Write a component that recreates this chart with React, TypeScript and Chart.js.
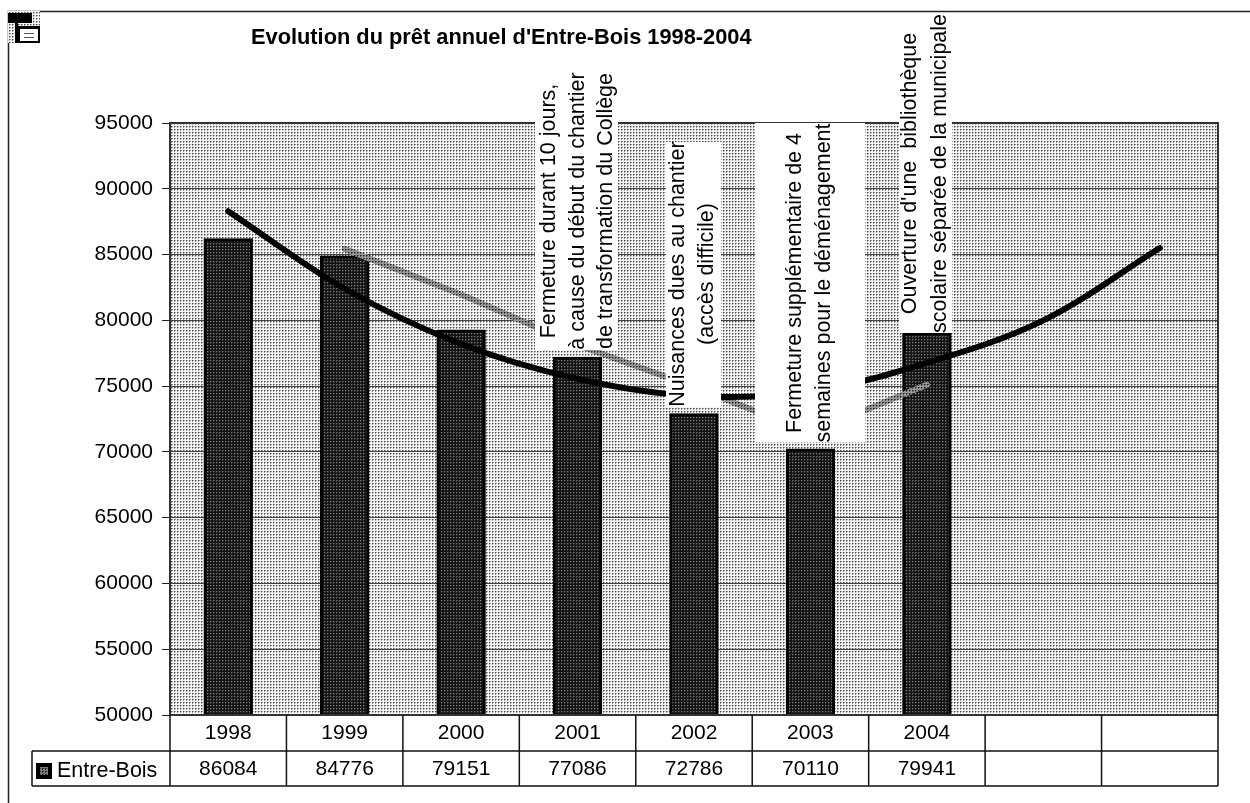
import React, { useEffect, useRef } from "react";
import { Chart, registerables } from "chart.js";

Chart.register(...registerables);

const categories = ["1998", "1999", "2000", "2001", "2002", "2003", "2004", "", ""];
const barValues = [86084, 84776, 79151, 77086, 72786, 70110, 78950, null, null];
const tableValues = ["86084", "84776", "79151", "77086", "72786", "70110", "79941", "", ""];
const trendCurve = [88300, 82400, 78200, 75550, 74250, 74600, 76770, 80000, 85500];
const movingAverage = [null, 85430, 81960, 78120, 74940, 71450, 75100, null, null];
const yTicks = [50000, 55000, 60000, 65000, 70000, 75000, 80000, 85000, 90000, 95000];
const seriesName = "Entre-Bois";
const titleText = "Evolution du prêt annuel d'Entre-Bois 1998-2004";
const notes = [
  { box: [535, 60, 618, 350], cy: 211, lines: [["Fermeture durant 10 jours,", 549], ["à cause du début du chantier", 578], ["de transformation du Collège", 606]] },
  { box: [666, 142, 721, 407], cy: 274, lines: [["Nuisances dues au chantier", 678], ["(accès difficile)", 707]] },
  { box: [755, 123, 865, 442], cy: 283, lines: [["Fermeture supplémentaire de 4", 795], ["semaines pour le déménagement", 824]] },
  { box: [899, 15, 952, 333], cy: 173.5, lines: [["Ouverture d'une  bibliothèque", 910], ["scolaire séparée de la municipale", 940]] },
];

const FONT = '"Liberation Sans", Arial, sans-serif';

function dots(ctx: CanvasRenderingContext2D, light: string, mid: string, dark: string) {
  const c = document.createElement("canvas");
  c.width = 3;
  c.height = 3;
  const p = c.getContext("2d")!;
  p.fillStyle = light;
  p.fillRect(0, 0, 3, 3);
  p.fillStyle = mid;
  p.fillRect(1, 0, 1, 1);
  p.fillRect(0, 1, 1, 1);
  p.fillStyle = dark;
  p.fillRect(0, 0, 1, 1);
  return ctx.createPattern(c, "repeat")!;
}

const backgroundPlugin = {
  id: "plotBackground",
  beforeDraw(chart: any) {
    const { ctx, chartArea: a } = chart;
    ctx.save();
    ctx.fillStyle = "#ffffff";
    ctx.fillRect(0, 0, chart.width, chart.height);
    ctx.fillStyle = dots(ctx, "#f4f4f4", "#9a9a9a", "#4a4a4a");
    ctx.fillRect(a.left, a.top, a.right - a.left, a.bottom - a.top);
    ctx.restore();
  },
};

const overlayPlugin = {
  id: "overlay",
  afterDatasetsDraw(chart: any) {
    const { ctx, chartArea: a, scales } = chart;
    ctx.save();
    // plot border
    ctx.strokeStyle = "#333333";
    ctx.lineWidth = 2;
    ctx.strokeRect(a.left, a.top, a.right - a.left, a.bottom - a.top);
    // notes
    notes.forEach((n) => {
      ctx.fillStyle = "#ffffff";
      ctx.fillRect(n.box[0], n.box[1], n.box[2] - n.box[0], n.box[3] - n.box[1]);
    });
    ctx.fillStyle = "#000000";
    ctx.font = `21.5px ${FONT}`;
    ctx.textAlign = "center";
    ctx.textBaseline = "middle";
    notes.forEach((n) => {
      n.lines.forEach(([t, x]) => {
        ctx.save();
        ctx.translate(x as number, n.cy);
        ctx.rotate(-Math.PI / 2);
        ctx.fillText(t as string, 0, 0);
        ctx.restore();
      });
    });
    // frame
    ctx.strokeStyle = "#222222";
    ctx.lineWidth = 1.5;
    ctx.beginPath();
    ctx.moveTo(8.5, 803);
    ctx.lineTo(8.5, 11.5);
    ctx.lineTo(1250, 11.5);
    ctx.stroke();
    // title
    ctx.fillStyle = "#000000";
    ctx.font = `bold 21.8px ${FONT}`;
    ctx.textAlign = "left";
    ctx.fillText(titleText, 251, 38);
    // icon
    ctx.fillStyle = dots(ctx, "#f4f4f4", "#9a9a9a", "#4a4a4a");
    ctx.fillRect(8, 11, 32, 32);
    ctx.fillStyle = "#000000";
    ctx.fillRect(8, 13, 24, 10);
    ctx.fillRect(15, 23, 3, 20);
    ctx.fillRect(18, 26, 22, 17);
    ctx.fillStyle = "#ffffff";
    ctx.fillRect(20, 29, 18, 12);
    ctx.fillStyle = "#555555";
    ctx.fillRect(24, 33, 10, 1);
    ctx.fillRect(24, 37, 10, 1);
    // data table
    const xs = scales.x;
    const cellW = (a.right - a.left) / categories.length;
    const rowTop = a.bottom;
    const rowMid = 751;
    const rowBottom = 786;
    ctx.strokeStyle = "#111111";
    ctx.lineWidth = 1.5;
    ctx.beginPath();
    ctx.moveTo(32, rowMid);
    ctx.lineTo(a.right, rowMid);
    ctx.moveTo(32, rowBottom);
    ctx.lineTo(a.right, rowBottom);
    ctx.moveTo(32, rowMid);
    ctx.lineTo(32, rowBottom);
    for (let i = 0; i <= categories.length; i++) {
      const x = a.left + cellW * i;
      ctx.moveTo(x, rowTop);
      ctx.lineTo(x, rowBottom);
    }
    ctx.stroke();
    ctx.font = `21px ${FONT}`;
    ctx.textAlign = "center";
    ctx.fillStyle = "#000000";
    tableValues.forEach((v, i) => {
      ctx.fillText(v, xs.getPixelForValue(i), 769);
    });
    ctx.textAlign = "left";
    ctx.font = `21.5px ${FONT}`;
    ctx.fillText(seriesName, 57, 771);
    ctx.fillStyle = "#000000";
    ctx.fillRect(36, 763, 16, 16);
    ctx.fillStyle = dots(ctx, "#7a7a7a", "#444444", "#111111");
    ctx.fillRect(40, 767, 8, 8);
    ctx.restore();
  },
};

export default function App() {
  const ref = useRef<HTMLCanvasElement>(null);
  useEffect(() => {
    const canvas = ref.current!;
    const ctx = canvas.getContext("2d")!;
    const chart = new Chart(canvas, {
      type: "bar",
      data: {
        labels: categories,
        datasets: [
          {
            type: "line",
            label: "Tendance",
            data: trendCurve,
            borderColor: "#000000",
            borderWidth: 6,
            borderCapStyle: "round",
            tension: 0.35,
            pointRadius: 0,
            order: 1,
          },
          {
            type: "line",
            label: "Moyenne mobile",
            data: movingAverage,
            borderColor: dots(ctx, "#999999", "#555555", "#222222"),
            borderWidth: 6,
            borderCapStyle: "round",
            tension: 0,
            pointRadius: 0,
            spanGaps: false,
            order: 2,
          },
          {
            type: "bar",
            label: seriesName,
            data: barValues,
            backgroundColor: dots(ctx, "#141414", "#3a3a3a", "#7a7a7a"),
            borderColor: "#000000",
            borderWidth: 3,
            inflateAmount: 2,
            barPercentage: 0.39,
            categoryPercentage: 1,
            order: 3,
          },
        ],
      } as any,
      options: {
        animation: false,
        responsive: false,
        layout: { padding: { top: 123, right: 32, left: 0, bottom: 0 } },
        plugins: { legend: { display: false }, title: { display: false }, tooltip: { enabled: false } },
        scales: {
          x: {
            grid: { display: false, drawTicks: false },
            border: { display: false },
            ticks: { color: "#000000", font: { family: FONT, size: 21 }, padding: 6, maxRotation: 0 },
            afterFit(scale: any) {
              scale.height = 88;
            },
          },
          y: {
            min: 50000,
            max: 95000,
            afterBuildTicks(scale: any) {
              scale.ticks = yTicks.map((value) => ({ value }));
            },
            grid: { color: "#444444", lineWidth: 1, tickLength: 8, tickColor: "#222222" },
            border: { display: false },
            ticks: { color: "#000000", font: { family: FONT, size: 21 }, padding: 9, callback: (v: any) => String(v) },
            afterFit(scale: any) {
              scale.width = 170;
            },
          },
        },
      },
      plugins: [backgroundPlugin, overlayPlugin],
    } as any);
    return () => chart.destroy();
  }, []);
  return (
    <canvas
      ref={ref}
      width={1250}
      height={803}
      style={{ position: "absolute", left: 0, top: 0, width: 1250, height: 803, display: "block" }}
    />
  );
}
